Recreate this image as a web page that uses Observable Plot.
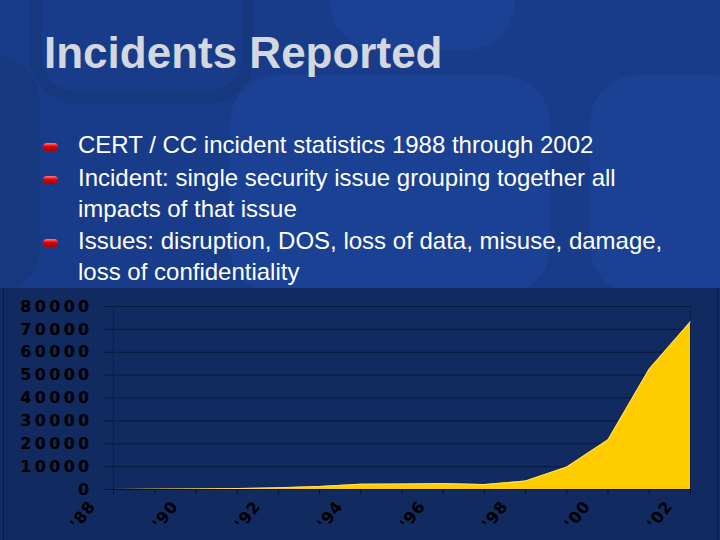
<!DOCTYPE html>
<html>
<head>
<meta charset="utf-8">
<script src="https://cdn.jsdelivr.net/npm/d3@7"></script>
<script src="https://cdn.jsdelivr.net/npm/@observablehq/plot@0.6"></script>
<style>
  html, body { margin: 0; padding: 0; }
  #slide { position: relative; width: 720px; height: 540px; overflow: hidden;
    background: #183c89; font-family: "Liberation Sans", Arial, sans-serif; }
  .deco { position: absolute; border-radius: 48px; }
  #title { position: absolute; left: 44px; top: 30px; margin: 0; font-size: 44px; font-weight: bold;
    color: #d3d7df; letter-spacing: 0; white-space: nowrap; line-height: 46px; }
  .item { position: absolute; left: 78px; color: #fff; font-size: 24px; line-height: 31px;
    white-space: nowrap; }
  .bullet { position: absolute; left: 43px; width: 15px; height: 8px; border-radius: 4px;
    background: linear-gradient(#ff8080, #e00000 45%, #a80000); }
  #panel { position: absolute; left: 0; top: 288px; width: 720px; height: 252px; background: #112a5f; }
  #panel .edge { position: absolute; top: 0; bottom: 0; width: 1px; background: #0a1a42; }
  #chart { position: absolute; left: 0; top: 0; }
  #chart g[aria-label="y-axis tick label"] text { letter-spacing: 3.3px; }
  #chart g[aria-label="x-axis tick label"] text { letter-spacing: 1px; }
</style>
</head>
<body>
<div id="slide">
  <div class="deco" style="left:30px; top:-110px; width:200px; height:190px; border:12px solid #16387f;"></div>
  <div class="deco" style="left:-70px; top:55px; width:110px; height:240px; background:#16387f;"></div>
  <div class="deco" style="left:330px; top:-60px; width:185px; height:110px; background:#1a4193;"></div>
  <div class="deco" style="left:230px; top:75px; width:320px; height:220px; background:#1a4193;"></div>
  <div class="deco" style="left:590px; top:75px; width:170px; height:220px; background:#1a4193;"></div>
  <h1 id="title">Incidents Reported</h1>
  <div class="bullet" style="top:143px;"></div>
  <div class="item" style="top:129px;">CERT / CC incident statistics 1988 through 2002</div>
  <div class="bullet" style="top:176px;"></div>
  <div class="item" style="top:162px;">Incident: single security issue grouping together all<br>impacts of that issue</div>
  <div class="bullet" style="top:239px;"></div>
  <div class="item" style="top:225px;">Issues: disruption, DOS, loss of data, misuse, damage,<br>loss of confidentiality</div>
  <div id="panel">
    <div class="edge" style="left:3px;"></div>
    <div class="edge" style="left:717px;"></div>
    <div id="chart"></div>
  </div>
</div>
<script>
const years = [1988, 1989, 1990, 1991, 1992, 1993, 1994, 1995, 1996, 1997, 1998, 1999, 2000, 2001, 2002];
const incidents = [6, 132, 252, 406, 773, 1334, 2340, 2412, 2573, 2134, 3734, 9859, 21756, 52658, 73359];
const yTicks = [0, 10000, 20000, 30000, 40000, 50000, 60000, 70000, 80000];
const labelYears = [1988, 1990, 1992, 1994, 1996, 1998, 2000, 2002];

const data = years.map((year, i) => ({year, count: incidents[i]}));
const gridColor = "#08193f";

const chart = Plot.plot({
  width: 720,
  height: 252,
  marginTop: 18,
  marginBottom: 51,
  marginLeft: 113,
  marginRight: 30,
  x: {domain: [1988, 2002]},
  y: {domain: [0, 80000]},
  style: {background: "transparent", fontFamily: "DejaVu Sans", fontSize: "16px", fontWeight: "bold", color: "#000", overflow: "visible"},
  marks: [
    Plot.gridY(yTicks, {stroke: gridColor, strokeOpacity: 1}),
    Plot.axisY(yTicks, {tickSize: 9, tickPadding: 12, stroke: gridColor, fill: "#000", tickFormat: d => String(d), label: null}),
    Plot.ruleX([1988, 2002], {stroke: "#0c1f4b"}),
    Plot.areaY(data, {x: "year", y: "count", fill: "#ffcc00"}),
    Plot.lineY(data, {x: "year", y: "count", stroke: "#ffe680", strokeWidth: 0.8}),
    Plot.ruleY([0], {stroke: "#061030"}),
    Plot.axisX(years, {tickSize: 5, tickFormat: () => "", stroke: "#061030", label: null}),
    Plot.axisX(labelYears, {tickSize: 0, tickRotate: -52, fontSize: 16, tickFormat: d => "'" + String(d).slice(2), fill: "#000", label: null, dx: -21, dy: 2})
  ]
});
document.getElementById("chart").appendChild(chart);
</script>
</body>
</html>
